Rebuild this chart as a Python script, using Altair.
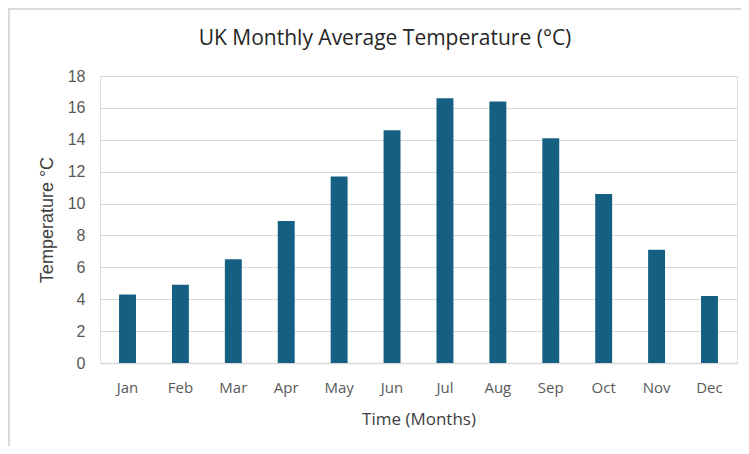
import altair as alt
import pandas as pd

months = ["Jan", "Feb", "Mar", "Apr", "May", "Jun", "Jul", "Aug", "Sep", "Oct", "Nov", "Dec"]
temps = [4.3, 4.9, 6.5, 8.9, 11.7, 14.6, 16.6, 16.4, 14.1, 10.6, 7.1, 4.2]
y_ticks = [0, 2, 4, 6, 8, 10, 12, 14, 16, 18]
chart_title = "UK Monthly Average Temperature (°C)"

df = pd.DataFrame({"Month": months, "Temp": temps})

W, H = 637, 287

bars = alt.Chart(df).mark_bar(color="#156082").encode(
    x=alt.X(
        "Month:N",
        sort=months,
        scale=alt.Scale(paddingInner=0.68, paddingOuter=0.36),
        axis=alt.Axis(
            title="Time (Months)",
            labelAngle=0,
            ticks=False,
            tickSize=0,
            domain=True,
            domainColor="#d9d9d9",
            domainWidth=1.5,
            labelFont="Open Sans",
            labelFontSize=15,
            labelColor="#595959",
            labelPadding=17,
            titleFont="Open Sans",
            titleFontSize=17,
            titleFontWeight="normal",
            titleColor="#404040",
            titlePadding=16,
        ),
    ),
    y=alt.Y(
        "Temp:Q",
        scale=alt.Scale(domain=[0, 18], nice=False),
        axis=alt.Axis(
            title="Temperature °C",
            values=y_ticks,
            ticks=False,
            tickSize=0,
            domain=False,
            grid=True,
            gridColor="#d9d9d9",
            gridWidth=1.2,
            labelFont="Liberation Sans",
            labelFontSize=16,
            labelColor="#595959",
            labelPadding=15,
            titleFont="Liberation Sans",
            titleFontSize=18,
            titleFontWeight="normal",
            titleColor="#404040",
            titlePadding=11,
        ),
    ),
)

frame = pd.DataFrame({"k": [0]})
left_border = alt.Chart(frame).mark_rule(color="#d9d9d9", strokeWidth=2).encode(
    x=alt.value(-91), y=alt.value(-67), y2=alt.value(372)
)
top_border = alt.Chart(frame).mark_rule(color="#d9d9d9", strokeWidth=2).encode(
    x=alt.value(-92), x2=alt.value(645), y=alt.value(-67)
)
title_text = alt.Chart(frame).mark_text(
    font="Open Sans", fontSize=21, color="#262626", align="center", baseline="alphabetic"
).encode(x=alt.value(285), y=alt.value(-31), text=alt.value(chart_title))

chart = alt.layer(bars, left_border, top_border, title_text).properties(
    width=W,
    height=H,
    autosize=alt.AutoSizeParams(type="none"),
    padding={"left": 92, "top": 68, "right": 4, "bottom": 83},
).configure_view(stroke=None).configure(background="white")

chart.save("out.html", embed_options={"renderer": "svg", "actions": False})
